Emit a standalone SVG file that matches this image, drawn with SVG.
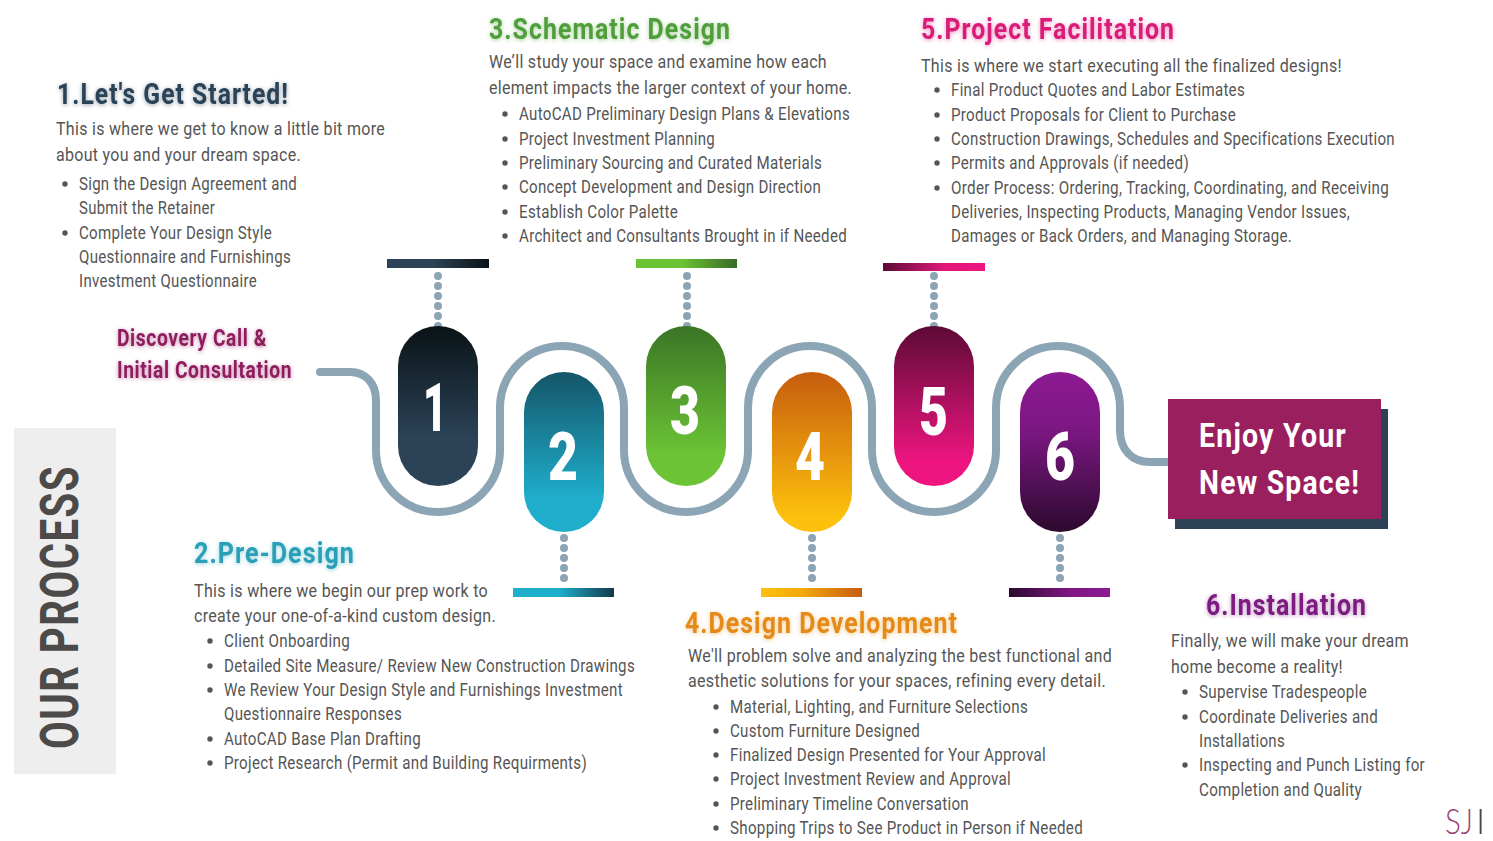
<svg xmlns="http://www.w3.org/2000/svg" width="1493" height="841" viewBox="0 0 1493 841">
<style>
text{font-family:Roboto,"Liberation Sans",sans-serif}
.t{font-size:29px;font-weight:700;letter-spacing:1.2px;filter:url(#glow)}
.b{font-size:19px;fill:#555;font-weight:400;letter-spacing:.35px}
.l{font-size:18px;fill:#555;font-weight:400;letter-spacing:.35px}
.d{fill:#555}
.n{font-size:67px;font-weight:900;fill:#fff}
.c{font-size:23px;font-weight:700;fill:#8e1f5e;letter-spacing:.7px;filter:url(#glow)}
.e{font-size:33px;font-weight:700;fill:#fff;letter-spacing:1.4px}
.link{fill:none;stroke:#8ba5b4;stroke-width:8;stroke-linecap:round}
.dots{fill:none;stroke:#8ba5b4;stroke-width:8;stroke-linecap:round;stroke-dasharray:0 10}
</style>
<defs>
<filter id="glow" x="-10%" y="-30%" width="120%" height="170%"><feGaussianBlur in="SourceGraphic" stdDeviation="2"/><feOffset dx="0" dy="1"/><feComponentTransfer result="g"><feFuncA type="linear" slope="0.5"/></feComponentTransfer><feMerge><feMergeNode in="g"/><feMergeNode in="SourceGraphic"/></feMerge></filter>
<linearGradient id="p1" x1="0" y1="0" x2="0" y2="1"><stop offset="0" stop-color="#0a1316"/><stop offset=".7" stop-color="#2b4257"/><stop offset="1" stop-color="#2b4257"/></linearGradient>
<linearGradient id="p2" x1="0" y1="0" x2="0" y2="1"><stop offset="0" stop-color="#155568"/><stop offset=".8" stop-color="#1fafcd"/><stop offset="1" stop-color="#1fafcd"/></linearGradient>
<linearGradient id="p3" x1="0" y1="0" x2="0" y2="1"><stop offset="0" stop-color="#3a7526"/><stop offset=".8" stop-color="#6cc335"/><stop offset="1" stop-color="#6cc335"/></linearGradient>
<linearGradient id="p4" x1="0" y1="0" x2="0" y2="1"><stop offset="0" stop-color="#c65c0e"/><stop offset=".9" stop-color="#fdc00c"/><stop offset="1" stop-color="#fdc00c"/></linearGradient>
<linearGradient id="p5" x1="0" y1="0" x2="0" y2="1"><stop offset="0" stop-color="#5c0a36"/><stop offset=".85" stop-color="#ee1580"/><stop offset="1" stop-color="#ee1580"/></linearGradient>
<linearGradient id="p6" x1="0" y1="0" x2="0" y2="1"><stop offset="0" stop-color="#8d1a93"/><stop offset=".35" stop-color="#7d1783"/><stop offset="1" stop-color="#2c0a2e"/></linearGradient>
<linearGradient id="b1"><stop offset="0" stop-color="#2b4257"/><stop offset=".45" stop-color="#2b4257"/><stop offset="1" stop-color="#0a1316"/></linearGradient>
<linearGradient id="b2"><stop offset="0" stop-color="#1fafcd"/><stop offset=".45" stop-color="#1fafcd"/><stop offset="1" stop-color="#12394a"/></linearGradient>
<linearGradient id="b3"><stop offset="0" stop-color="#6cc335"/><stop offset=".45" stop-color="#6cc335"/><stop offset="1" stop-color="#3a6a26"/></linearGradient>
<linearGradient id="b4"><stop offset="0" stop-color="#fdc00c"/><stop offset=".4" stop-color="#f3a90f"/><stop offset="1" stop-color="#c65c0e"/></linearGradient>
<linearGradient id="b5"><stop offset="0" stop-color="#5c0a36"/><stop offset=".6" stop-color="#e0187a"/><stop offset="1" stop-color="#ee1580"/></linearGradient>
<linearGradient id="b6"><stop offset="0" stop-color="#2c0a2e"/><stop offset=".6" stop-color="#7d1783"/><stop offset="1" stop-color="#8d1a93"/></linearGradient>
</defs>
<rect width="1493" height="841" fill="#fff"/>

<g id="connectors">
<path class="link" d="M320 372H350C366 372 376 384 376 400V450A62 62 0 0 0 500 450V408A62 62 0 0 1 624 408V450A62 62 0 0 0 748 450V408A62 62 0 0 1 872 408V450A62 62 0 0 0 996 450V408A62 62 0 0 1 1120 408V430C1120 450 1132 462 1150 462H1170"/>
<path class="dots" d="M438 276V330"/>
<path class="dots" d="M687 276V330"/>
<path class="dots" d="M934 276V330"/>
<path class="dots" d="M564 538V580"/>
<path class="dots" d="M812 538V580"/>
<path class="dots" d="M1060 538V580"/>
</g>

<g id="our-process">
<rect x="14" y="428" width="102" height="346" fill="#eee"/>
<text transform="translate(78 749) rotate(-90)" font-size="54" font-weight="700" fill="#4d4a4a" letter-spacing="2" textLength="284" lengthAdjust="spacingAndGlyphs">OUR PROCESS</text>
</g>

<g id="start">
<text class="c" x="117" y="346" textLength="150" lengthAdjust="spacingAndGlyphs">Discovery Call &amp;</text>
<text class="c" x="117" y="378" textLength="175" lengthAdjust="spacingAndGlyphs">Initial Consultation</text>
</g>

<g id="step-1">
<rect x="387" y="259" width="102" height="9" fill="url(#b1)"/>
<rect x="398" y="326" width="80" height="160" rx="40" fill="url(#p1)"/>
<text class="n" x="423" y="431" textLength="24" lengthAdjust="spacingAndGlyphs">1</text>
<text class="t" x="57" y="104" fill="#2b4257" textLength="232" lengthAdjust="spacingAndGlyphs">1.Let's Get Started!</text>
<text class="b" x="56" y="135" textLength="329" lengthAdjust="spacingAndGlyphs">This is where we get to know a little bit more</text>
<text class="b" x="56" y="161" textLength="245" lengthAdjust="spacingAndGlyphs">about you and your dream space.</text>
<circle class="d" cx="65" cy="184" r="2.7"/>
<text class="l" x="79" y="190" textLength="218" lengthAdjust="spacingAndGlyphs">Sign the Design Agreement and</text>
<text class="l" x="79" y="214" textLength="136" lengthAdjust="spacingAndGlyphs">Submit the Retainer</text>
<circle class="d" cx="65" cy="233" r="2.7"/>
<text class="l" x="79" y="239" textLength="193" lengthAdjust="spacingAndGlyphs">Complete Your Design Style</text>
<text class="l" x="79" y="263" textLength="212" lengthAdjust="spacingAndGlyphs">Questionnaire and Furnishings</text>
<text class="l" x="79" y="287" textLength="178" lengthAdjust="spacingAndGlyphs">Investment Questionnaire</text>
</g>

<g id="step-2">
<rect x="513" y="588" width="101" height="9" fill="url(#b2)"/>
<rect x="524" y="372" width="80" height="160" rx="40" fill="url(#p2)"/>
<text class="n" x="548" y="480" textLength="30" lengthAdjust="spacingAndGlyphs">2</text>
<text class="t" x="194" y="563" fill="#2a9fb8" textLength="161" lengthAdjust="spacingAndGlyphs">2.Pre-Design</text>
<text class="b" x="194" y="597" textLength="294" lengthAdjust="spacingAndGlyphs">This is where we begin our prep work to</text>
<text class="b" x="194" y="622" textLength="302" lengthAdjust="spacingAndGlyphs">create your one-of-a-kind custom design.</text>
<circle class="d" cx="210" cy="641" r="2.7"/>
<text class="l" x="224" y="647" textLength="126" lengthAdjust="spacingAndGlyphs">Client Onboarding</text>
<circle class="d" cx="210" cy="666" r="2.7"/>
<text class="l" x="224" y="672" textLength="411" lengthAdjust="spacingAndGlyphs">Detailed Site Measure/ Review New Construction Drawings</text>
<circle class="d" cx="210" cy="690" r="2.7"/>
<text class="l" x="224" y="696" textLength="399" lengthAdjust="spacingAndGlyphs">We Review Your Design Style and Furnishings Investment</text>
<text class="l" x="224" y="720" textLength="178" lengthAdjust="spacingAndGlyphs">Questionnaire Responses</text>
<circle class="d" cx="210" cy="739" r="2.7"/>
<text class="l" x="224" y="745" textLength="197" lengthAdjust="spacingAndGlyphs">AutoCAD Base Plan Drafting</text>
<circle class="d" cx="210" cy="763" r="2.7"/>
<text class="l" x="224" y="769" textLength="363" lengthAdjust="spacingAndGlyphs">Project Research (Permit and Building Requirments)</text>
</g>

<g id="step-3">
<rect x="636" y="259" width="101" height="9" fill="url(#b3)"/>
<rect x="646" y="326" width="80" height="160" rx="40" fill="url(#p3)"/>
<text class="n" x="670" y="434" textLength="30" lengthAdjust="spacingAndGlyphs">3</text>
<text class="t" x="489" y="39" fill="#4f9e3a" textLength="242" lengthAdjust="spacingAndGlyphs">3.Schematic Design</text>
<text class="b" x="489" y="68" textLength="338" lengthAdjust="spacingAndGlyphs">We’ll study your space and examine how each</text>
<text class="b" x="489" y="94" textLength="363" lengthAdjust="spacingAndGlyphs">element impacts the larger context of your home.</text>
<circle class="d" cx="505" cy="114" r="2.7"/>
<text class="l" x="519" y="120" textLength="331" lengthAdjust="spacingAndGlyphs">AutoCAD Preliminary Design Plans &amp; Elevations</text>
<circle class="d" cx="505" cy="139" r="2.7"/>
<text class="l" x="519" y="145" textLength="196" lengthAdjust="spacingAndGlyphs">Project Investment Planning</text>
<circle class="d" cx="505" cy="163" r="2.7"/>
<text class="l" x="519" y="169" textLength="303" lengthAdjust="spacingAndGlyphs">Preliminary Sourcing and Curated Materials</text>
<circle class="d" cx="505" cy="187" r="2.7"/>
<text class="l" x="519" y="193" textLength="302" lengthAdjust="spacingAndGlyphs">Concept Development and Design Direction</text>
<circle class="d" cx="505" cy="212" r="2.7"/>
<text class="l" x="519" y="218" textLength="159" lengthAdjust="spacingAndGlyphs">Establish Color Palette</text>
<circle class="d" cx="505" cy="236" r="2.7"/>
<text class="l" x="519" y="242" textLength="328" lengthAdjust="spacingAndGlyphs">Architect and Consultants Brought in if Needed</text>
</g>

<g id="step-4">
<rect x="761" y="588" width="101" height="9" fill="url(#b4)"/>
<rect x="772" y="372" width="80" height="160" rx="40" fill="url(#p4)"/>
<text class="n" x="795" y="480" textLength="30" lengthAdjust="spacingAndGlyphs">4</text>
<text class="t" x="685" y="633" fill="#e58a17" textLength="273" lengthAdjust="spacingAndGlyphs">4.Design Development</text>
<text class="b" x="688" y="662" textLength="424" lengthAdjust="spacingAndGlyphs">We'll problem solve and analyzing the best functional and</text>
<text class="b" x="688" y="687" textLength="418" lengthAdjust="spacingAndGlyphs">aesthetic solutions for your spaces, refining every detail.</text>
<circle class="d" cx="716" cy="707" r="2.7"/>
<text class="l" x="730" y="713" textLength="298" lengthAdjust="spacingAndGlyphs">Material, Lighting, and Furniture Selections</text>
<circle class="d" cx="716" cy="731" r="2.7"/>
<text class="l" x="730" y="737" textLength="190" lengthAdjust="spacingAndGlyphs">Custom Furniture Designed</text>
<circle class="d" cx="716" cy="755" r="2.7"/>
<text class="l" x="730" y="761" textLength="316" lengthAdjust="spacingAndGlyphs">Finalized Design Presented for Your Approval</text>
<circle class="d" cx="716" cy="779" r="2.7"/>
<text class="l" x="730" y="785" textLength="281" lengthAdjust="spacingAndGlyphs">Project Investment Review and Approval</text>
<circle class="d" cx="716" cy="804" r="2.7"/>
<text class="l" x="730" y="810" textLength="239" lengthAdjust="spacingAndGlyphs">Preliminary Timeline Conversation</text>
<circle class="d" cx="716" cy="828" r="2.7"/>
<text class="l" x="730" y="834" textLength="353" lengthAdjust="spacingAndGlyphs">Shopping Trips to See Product in Person if Needed</text>
</g>

<g id="step-5">
<rect x="883" y="263" width="102" height="8" fill="url(#b5)"/>
<rect x="894" y="326" width="80" height="160" rx="40" fill="url(#p5)"/>
<text class="n" x="919" y="435" textLength="29" lengthAdjust="spacingAndGlyphs">5</text>
<text class="t" x="921" y="39" fill="#d91c78" textLength="254" lengthAdjust="spacingAndGlyphs">5.Project Facilitation</text>
<text class="b" x="921" y="72" textLength="421" lengthAdjust="spacingAndGlyphs">This is where we start executing all the finalized designs!</text>
<circle class="d" cx="937" cy="90" r="2.7"/>
<text class="l" x="951" y="96" textLength="294" lengthAdjust="spacingAndGlyphs">Final Product Quotes and Labor Estimates</text>
<circle class="d" cx="937" cy="115" r="2.7"/>
<text class="l" x="951" y="121" textLength="285" lengthAdjust="spacingAndGlyphs">Product Proposals for Client to Purchase</text>
<circle class="d" cx="937" cy="139" r="2.7"/>
<text class="l" x="951" y="145" textLength="444" lengthAdjust="spacingAndGlyphs">Construction Drawings, Schedules and Specifications Execution</text>
<circle class="d" cx="937" cy="163" r="2.7"/>
<text class="l" x="951" y="169" textLength="238" lengthAdjust="spacingAndGlyphs">Permits and Approvals (if needed)</text>
<circle class="d" cx="937" cy="188" r="2.7"/>
<text class="l" x="951" y="194" textLength="438" lengthAdjust="spacingAndGlyphs">Order Process: Ordering, Tracking, Coordinating, and Receiving</text>
<text class="l" x="951" y="218" textLength="399" lengthAdjust="spacingAndGlyphs">Deliveries, Inspecting Products, Managing Vendor Issues,</text>
<text class="l" x="951" y="242" textLength="341" lengthAdjust="spacingAndGlyphs">Damages or Back Orders, and Managing Storage.</text>
</g>

<g id="step-6">
<rect x="1009" y="588" width="101" height="9" fill="url(#b6)"/>
<rect x="1020" y="372" width="80" height="160" rx="40" fill="url(#p6)"/>
<text class="n" x="1045" y="480" textLength="30" lengthAdjust="spacingAndGlyphs">6</text>
<text class="t" x="1206" y="615" fill="#7b1a80" textLength="161" lengthAdjust="spacingAndGlyphs">6.Installation</text>
<text class="b" x="1171" y="647" textLength="238" lengthAdjust="spacingAndGlyphs">Finally, we will make your dream</text>
<text class="b" x="1171" y="673" textLength="172" lengthAdjust="spacingAndGlyphs">home become a reality!</text>
<circle class="d" cx="1185" cy="692" r="2.7"/>
<text class="l" x="1199" y="698" textLength="168" lengthAdjust="spacingAndGlyphs">Supervise Tradespeople</text>
<circle class="d" cx="1185" cy="717" r="2.7"/>
<text class="l" x="1199" y="723" textLength="179" lengthAdjust="spacingAndGlyphs">Coordinate Deliveries and</text>
<text class="l" x="1199" y="747" textLength="86" lengthAdjust="spacingAndGlyphs">Installations</text>
<circle class="d" cx="1185" cy="765" r="2.7"/>
<text class="l" x="1199" y="771" textLength="226" lengthAdjust="spacingAndGlyphs">Inspecting and Punch Listing for</text>
<text class="l" x="1199" y="796" textLength="163" lengthAdjust="spacingAndGlyphs">Completion and Quality</text>
</g>

<g id="finish">
<rect x="1175" y="409" width="213" height="120" fill="#2b4257"/>
<rect x="1168" y="399" width="213" height="120" fill="#9a1f5f"/>
<text class="e" x="1199" y="447" textLength="148" lengthAdjust="spacingAndGlyphs">Enjoy Your</text>
<text class="e" x="1199" y="494" textLength="161" lengthAdjust="spacingAndGlyphs">New Space!</text>
</g>

<g id="logo">
<text x="1445" y="834" font-size="35" font-weight="300" style="font-family:Lato,'Liberation Sans',sans-serif" fill="#9a3f72" textLength="28" lengthAdjust="spacingAndGlyphs">SJ</text>
<text x="1476" y="834" font-size="35" font-weight="300" style="font-family:Lato,'Liberation Sans',sans-serif" fill="#444">I</text>
</g>
</svg>
